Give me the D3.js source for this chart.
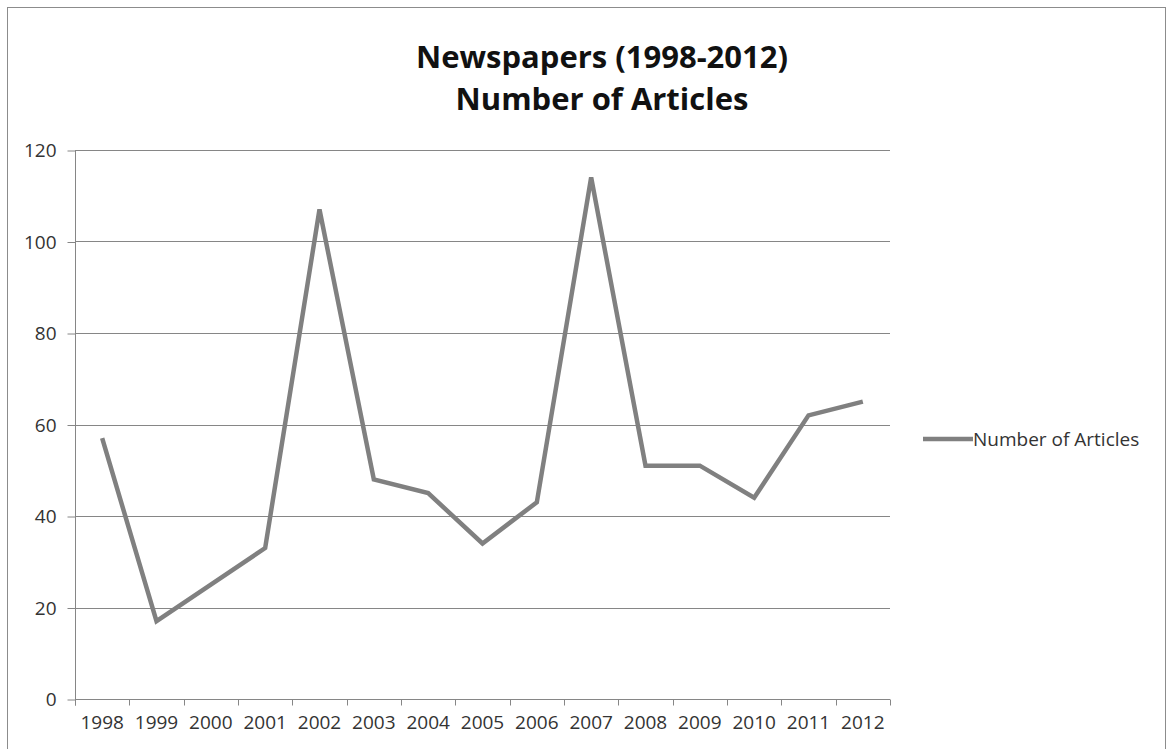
<!DOCTYPE html>
<html>
<head>
<meta charset="utf-8">
<script src="https://cdn.jsdelivr.net/npm/d3@7"></script>
<style>
  html, body { margin: 0; padding: 0; background: #fff; }
  svg { display: block; }
</style>
</head>
<body>
<svg id="chart" width="1167" height="749"></svg>
<script>
// Yearly article counts
const years = ["1998","1999","2000","2001","2002","2003","2004","2005","2006","2007","2008","2009","2010","2011","2012"];
const articles = [57, 17, 25, 33, 107, 48, 45, 34, 43, 114, 51, 51, 44, 62, 65];
const yTicks = [0, 20, 40, 60, 80, 100, 120];
const seriesName = "Number of Articles";
const titleLines = ["Newspapers (1998-2012)", "Number of Articles"];

const svg = d3.select("#chart");
const plot = { left: 75, right: 890, top: 150, bottom: 699 };
const axisColor = "#868686";
const lineColor = "#808080";
const textColor = "#333333";
const font = "'Open Sans', 'DejaVu Sans', sans-serif";

// chart frame
svg.append("rect")
  .attr("x", 7.5).attr("y", 7.5)
  .attr("width", 1158).attr("height", 760)
  .attr("fill", "#fff")
  .attr("stroke", "#8c8c8c").attr("stroke-width", 1);

const x = d3.scaleBand().domain(years).range([plot.left, plot.right]).paddingInner(0).paddingOuter(0);
const y = d3.scaleLinear().domain([0, 120]).range([plot.bottom, plot.top]);

// horizontal gridlines
svg.append("g")
  .selectAll("line")
  .data(yTicks.filter(t => t > 0))
  .join("line")
  .attr("x1", plot.left).attr("x2", plot.right)
  .attr("y1", d => Math.round(y(d)) + 0.5).attr("y2", d => Math.round(y(d)) + 0.5)
  .attr("stroke", axisColor).attr("stroke-width", 1);

// value axis
const yAxis = svg.append("g")
  .attr("transform", `translate(${plot.left + 0.5},0.5)`)
  .call(d3.axisLeft(y).tickValues(yTicks).tickSize(8).tickPadding(11).tickFormat(d3.format("d")));
yAxis.select(".domain").attr("stroke", axisColor).attr("d", `M0,${plot.top}V${plot.bottom + 6}`);
yAxis.selectAll(".tick line").attr("stroke", axisColor);
yAxis.selectAll(".tick text")
  .attr("font-family", font).attr("font-size", 19).attr("fill", textColor);

// category axis: labels centred in each band, tick marks on band edges
const xAxis = svg.append("g")
  .attr("transform", `translate(0,${plot.bottom + 0.5})`)
  .call(d3.axisBottom(x).tickSize(0).tickPadding(16));
xAxis.select(".domain").attr("stroke", axisColor).attr("d", `M${plot.left},0H${plot.right}`);
xAxis.selectAll(".tick text")
  .attr("font-family", font).attr("font-size", 19).attr("fill", textColor);

const edges = years.map(d => x(d)).concat([x.range()[1]]);
xAxis.append("g")
  .selectAll("line")
  .data(edges)
  .join("line")
  .attr("x1", d => Math.round(d) + 0.5).attr("x2", d => Math.round(d) + 0.5)
  .attr("y1", 0).attr("y2", 6)
  .attr("stroke", axisColor);

// series line
const line = d3.line()
  .x((d, i) => x(years[i]) + x.bandwidth() / 2)
  .y(d => y(d));
svg.append("path")
  .datum(articles)
  .attr("d", line)
  .attr("fill", "none")
  .attr("stroke", lineColor)
  .attr("stroke-width", 4.5)
  .attr("stroke-linejoin", "miter")
  .attr("stroke-linecap", "butt");

// legend
const legend = svg.append("g").attr("transform", "translate(923,439)");
legend.append("line")
  .attr("x1", 0).attr("x2", 50).attr("y1", 0).attr("y2", 0)
  .attr("stroke", lineColor).attr("stroke-width", 4.5);
legend.append("text")
  .attr("x", 50).attr("y", 6.5)
  .attr("font-family", font).attr("font-size", 19).attr("fill", textColor)
  .text(seriesName);

// title
const title = svg.append("g");
title.selectAll("text")
  .data(titleLines)
  .join("text")
  .attr("x", 602)
  .attr("y", (d, i) => 68 + i * 42)
  .attr("text-anchor", "middle")
  .attr("font-family", font)
  .attr("font-weight", "bold")
  .attr("font-size", 31)
  .attr("fill", "#111")
  .text(d => d);
</script>
</body>
</html>
